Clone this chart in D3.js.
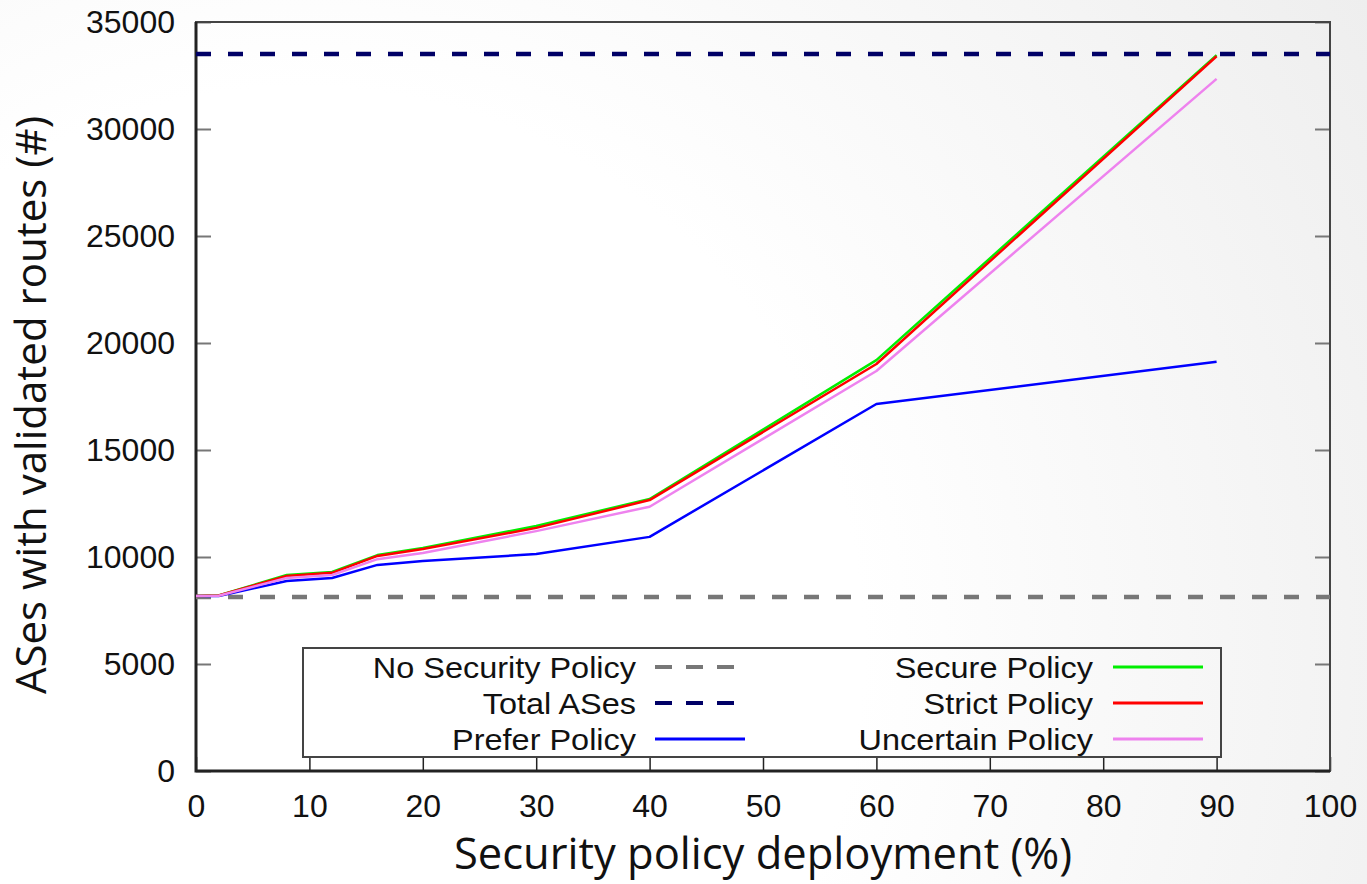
<!DOCTYPE html>
<html>
<head>
<meta charset="utf-8">
<script src="https://cdn.jsdelivr.net/npm/d3@7"></script>
<style>
  body { margin: 0; background: #fff; }
  svg { display: block; }
</style>
</head>
<body>
<div id="chart"></div>
<script>
// values
const deployment = [0, 2, 8, 12, 16, 20, 30, 40, 60, 90];
const securePolicy = [8180, 8200, 9160, 9300, 10090, 10420, 11450, 12710, 19200, 33450];
const strictPolicy = [8180, 8200, 9110, 9260, 10050, 10370, 11360, 12660, 19020, 33400];
const uncertainPolicy = [8180, 8190, 9020, 9160, 9900, 10190, 11210, 12350, 18690, 32340];
const preferPolicy = [8180, 8180, 8880, 9020, 9630, 9810, 10140, 10940, 17150, 19120];
const noSecurityLevel = 8130;
const totalASesLevel = 33500;
const xTicks = [0, 10, 20, 30, 40, 50, 60, 70, 80, 90, 100];
const yTicks = [0, 5000, 10000, 15000, 20000, 25000, 30000, 35000];

const width = 1367;
const height = 884;
const margin = { top: 22, right: 37, bottom: 113, left: 196 };
const plotW = width - margin.left - margin.right;
const plotH = height - margin.top - margin.bottom;

const svg = d3.select('#chart')
    .append('svg')
    .attr('width', width)
    .attr('height', height);

// slide-like background, white at lower left fading to grey at the right
const defs = svg.append('defs');
const grad = defs.append('radialGradient')
    .attr('id', 'bg')
    .attr('gradientUnits', 'userSpaceOnUse')
    .attr('cx', 300).attr('cy', 650).attr('r', 1250);
grad.append('stop').attr('offset', '0.45').attr('stop-color', '#ffffff');
grad.append('stop').attr('offset', '1').attr('stop-color', '#eeeeee');
svg.append('rect')
    .attr('width', width).attr('height', height)
    .attr('fill', 'url(#bg)');

const g = svg.append('g')
    .attr('transform', `translate(${margin.left},${margin.top})`);

const x = d3.scaleLinear().domain([0, 100]).range([0, plotW]);
const y = d3.scaleLinear().domain([0, 35000]).range([plotH, 0]);

// ticks (inward) on left, right, bottom
const yAxisL = g.append('g')
    .call(d3.axisLeft(y).tickValues(yTicks).tickSize(-15).tickPadding(21).tickFormat(d3.format('d')));
const yAxisR = g.append('g')
    .attr('transform', `translate(${plotW},0)`)
    .call(d3.axisRight(y).tickValues(yTicks).tickSize(-15).tickFormat(''));
const xAxis = g.append('g')
    .attr('transform', `translate(0,${plotH})`)
    .call(d3.axisBottom(x).tickValues(xTicks).tickSize(-14).tickPadding(23));

[yAxisL, yAxisR, xAxis].forEach((a) => a.select('.domain').remove());
yAxisL.selectAll('.tick line').attr('stroke', '#777').attr('stroke-width', 2);
yAxisR.selectAll('.tick line').attr('stroke', '#777').attr('stroke-width', 2);
xAxis.selectAll('.tick line').attr('stroke', '#222').attr('stroke-width', 1.5);

g.selectAll('.tick text')
    .attr('font-family', '"Liberation Sans", Arial, sans-serif')
    .attr('font-size', 32)
    .attr('fill', '#111');
xAxis.selectAll('.tick text').attr('dy', '0.71em');

// frame
g.append('rect')
    .attr('width', plotW).attr('height', plotH)
    .attr('fill', 'none')
    .attr('stroke', '#444')
    .attr('stroke-width', 2);
g.append('path')
    .attr('d', `M0,0V${plotH}H${plotW}`)
    .attr('fill', 'none')
    .attr('stroke', '#222')
    .attr('stroke-width', 3);

// horizontal reference lines
const refLines = [
    { value: noSecurityLevel, color: '#777777' },
    { value: totalASesLevel, color: '#000066' },
];
g.selectAll('.ref')
    .data(refLines)
    .enter()
    .append('line')
    .attr('class', 'ref')
    .attr('x1', 0).attr('x2', plotW)
    .attr('y1', (d) => y(d.value)).attr('y2', (d) => y(d.value))
    .attr('stroke', (d) => d.color)
    .attr('stroke-width', 4.5)
    .attr('stroke-dasharray', '15,17');

const series = [
    { name: 'Prefer Policy', values: preferPolicy, color: '#0000ff' },
    { name: 'Secure Policy', values: securePolicy, color: '#00ee00' },
    { name: 'Strict Policy', values: strictPolicy, color: '#ff0000' },
    { name: 'Uncertain Policy', values: uncertainPolicy, color: '#ee82ee' },
];

const line = d3.line()
    .x((d) => x(d[0]))
    .y((d) => y(d[1]));

g.selectAll('.series')
    .data(series)
    .enter()
    .append('path')
    .attr('class', 'series')
    .attr('d', (s) => line(deployment.map((v, i) => [v, s.values[i]])))
    .attr('fill', 'none')
    .attr('stroke', (s) => s.color)
    .attr('stroke-width', 2.5)
    .attr('stroke-linejoin', 'round');

// legend
const legendBox = { x: 303, y: 648, w: 918, h: 109 };
svg.append('rect')
    .attr('x', legendBox.x).attr('y', legendBox.y)
    .attr('width', legendBox.w).attr('height', legendBox.h)
    .attr('fill', 'none')
    .attr('stroke', '#444')
    .attr('stroke-width', 2);

const legendItems = [
    { name: 'No Security Policy', color: '#777777', dashed: true, col: 0, row: 0 },
    { name: 'Total ASes', color: '#000066', dashed: true, col: 0, row: 1 },
    { name: 'Prefer Policy', color: '#0000ff', dashed: false, col: 0, row: 2 },
    { name: 'Secure Policy', color: '#00ee00', dashed: false, col: 1, row: 0 },
    { name: 'Strict Policy', color: '#ff0000', dashed: false, col: 1, row: 1 },
    { name: 'Uncertain Policy', color: '#ee82ee', dashed: false, col: 1, row: 2 },
];
const colTextEnd = [636, 1093];
const colLineStart = [655, 1113];
const lineLen = 90;
const rowY = [667, 703, 739];

const items = svg.selectAll('.legend-item')
    .data(legendItems)
    .enter()
    .append('g')
    .attr('class', 'legend-item');
items.append('text')
    .attr('transform', (d) => `translate(${colTextEnd[d.col]},${rowY[d.row]}) scale(1.1,1)`)
    .attr('dy', '0.36em')
    .attr('text-anchor', 'end')
    .attr('font-family', '"Liberation Sans", Arial, sans-serif')
    .attr('font-size', 29.5)
    .attr('fill', '#111')
    .text((d) => d.name);
items.append('line')
    .attr('x1', (d) => colLineStart[d.col])
    .attr('x2', (d) => colLineStart[d.col] + (d.dashed ? 80 : lineLen))
    .attr('y1', (d) => rowY[d.row])
    .attr('y2', (d) => rowY[d.row])
    .attr('stroke', (d) => d.color)
    .attr('stroke-width', (d) => (d.dashed ? 4 : 3))
    .attr('stroke-dasharray', (d) => (d.dashed ? '17,14' : null));

// axis titles
svg.append('text')
    .attr('x', 763)
    .attr('y', 869)
    .attr('text-anchor', 'middle')
    .attr('font-family', '"Open Sans", sans-serif')
    .attr('font-size', 43.5)
    .attr('fill', '#111')
    .text('Security policy deployment (%)');
svg.append('text')
    .attr('transform', 'translate(46,405) rotate(-90)')
    .attr('text-anchor', 'middle')
    .attr('font-family', '"Open Sans", sans-serif')
    .attr('font-size', 42)
    .attr('fill', '#111')
    .text('ASes with validated routes (#)');
</script>
</body>
</html>
